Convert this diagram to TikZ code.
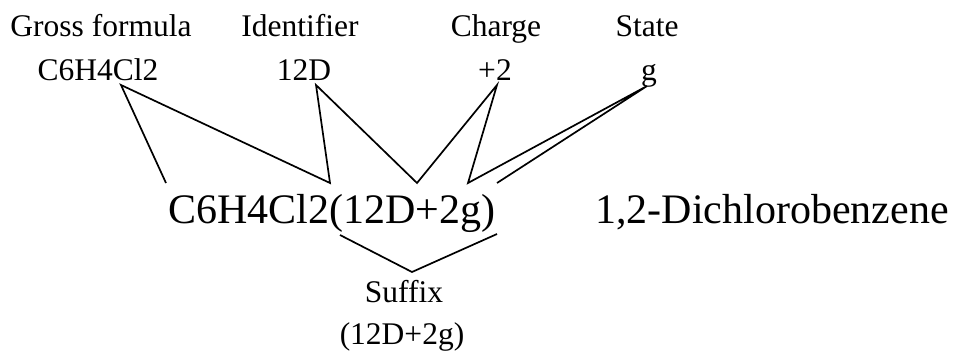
\documentclass[tikz,border=0pt]{standalone}
\usepackage{fontspec}
\setmainfont{Liberation Serif}
\begin{document}
\begin{tikzpicture}[x=1pt,y=-1pt,
  small/.style={inner sep=0pt,anchor=base,font=\fontsize{31.5}{36}\selectfont},
  big/.style={inner sep=0pt,anchor=base,font=\fontsize{42}{48}\selectfont},
  link/.style={line width=1.7pt,black}]
\useasboundingbox (0,0) rectangle (956,351);
% labels
\node[small] (gf) at (101,36) {Gross formula};
\node[small] (id) at (300,36) {Identifier};
\node[small] (ch) at (496,36) {Charge};
\node[small] (st) at (647,36) {State};
\node[small] (gfv) at (98,80) {C6H4Cl2};
\node[small] (idv) at (304,80) {12D};
\node[small] (chv) at (495,80) {+2};
\node[small] (stv) at (649,80) {g};
\node[big] (main) at (332,223) {C6H4Cl2(12D+2g)};
\node[big] (name) at (772,223) {1,2-Dichlorobenzene};
\node[small] (sfx) at (404,302) {Suffix};
\node[small] (sfxv) at (402,344) {(12D+2g)};
% apex coordinates
\coordinate (a1) at (121,85);
\coordinate (a2) at (316,85);
\coordinate (a3) at (497,85);
\coordinate (a4) at (647,86);
\coordinate (b1) at (166,183);
\coordinate (b2) at (330,183);
\coordinate (b3) at (417,183);
\coordinate (b4) at (468,183);
\coordinate (b5) at (497,183);
\coordinate (s1) at (340,235);
\coordinate (s2) at (412,272);
\coordinate (s3) at (497,234);
% connectors
\draw[link] (b1) -- (a1) -- (b2) -- (a2) -- (b3) -- (a3) -- (b4) -- (a4) -- (b5);
\draw[link] (s1) -- (s2) -- (s3);
\end{tikzpicture}
\end{document}
